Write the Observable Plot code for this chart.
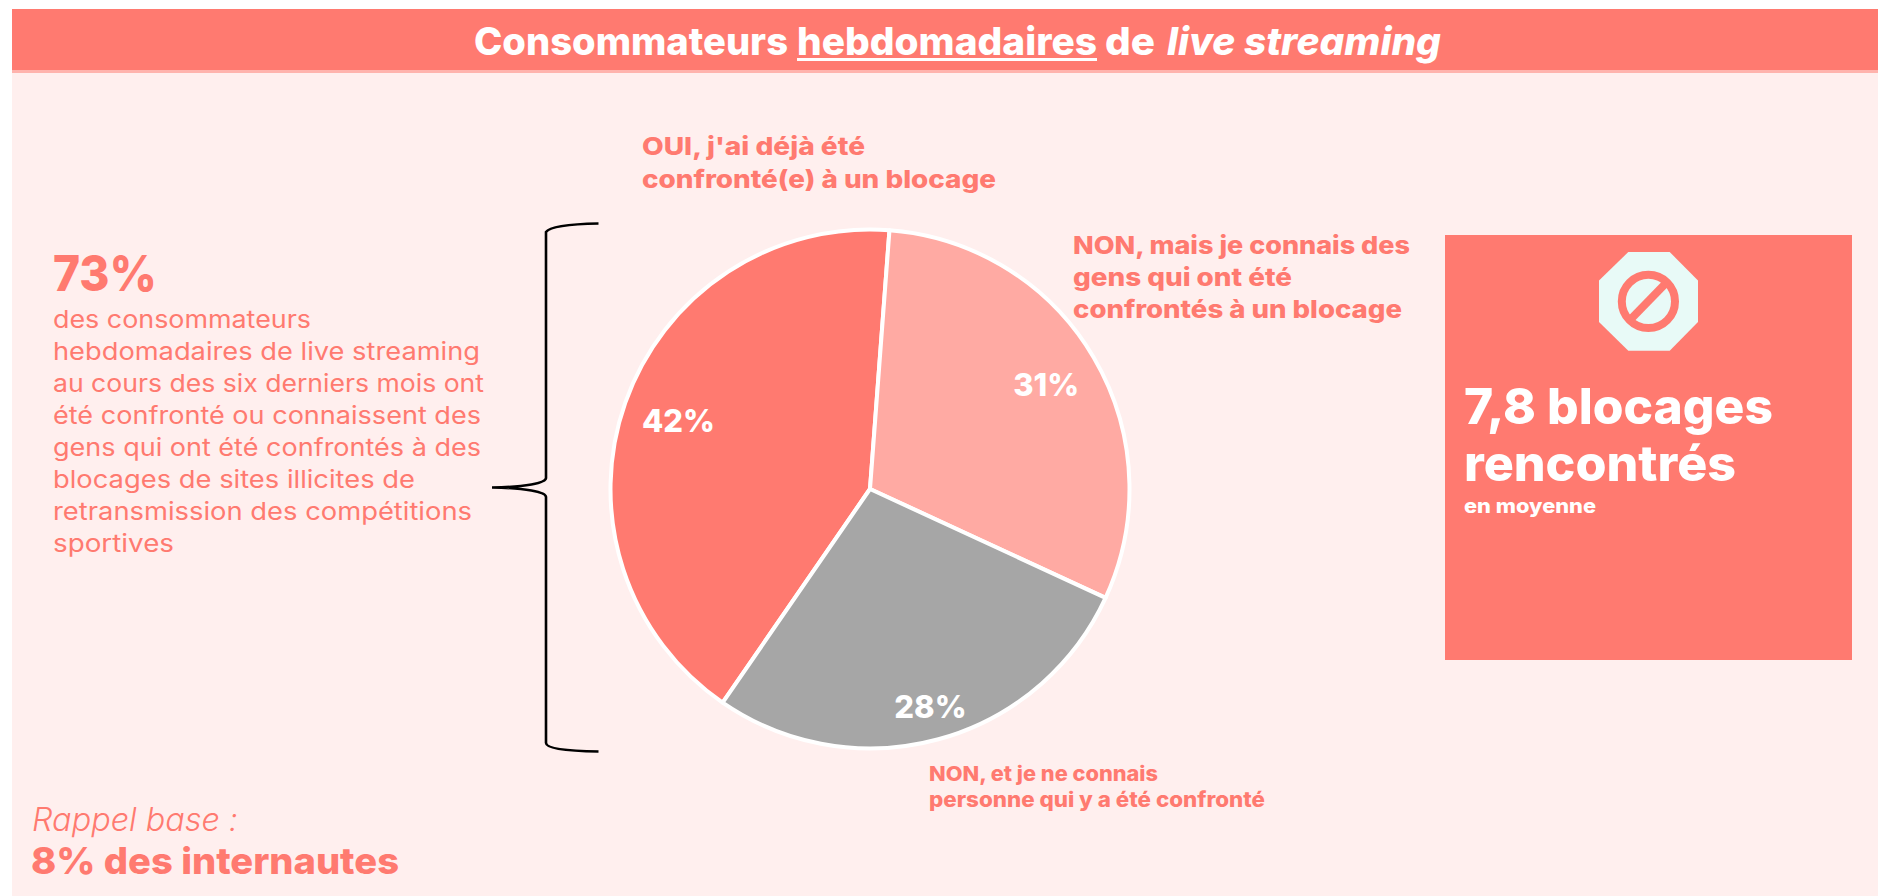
<!DOCTYPE html>
<html lang="fr"><head><meta charset="utf-8">
<script src="https://cdn.jsdelivr.net/npm/d3@7"></script>
<script src="https://cdn.jsdelivr.net/npm/@observablehq/plot@0.6"></script>
<style>
html,body{margin:0;padding:0;background:#fff;width:1878px;height:896px;overflow:hidden}
body{position:relative;font-family:Inter,"Liberation Sans",sans-serif}
#panel{position:absolute;left:12px;top:9px;width:1866px;height:887px;background:#FFEFEE}
#head{position:absolute;left:12px;top:9px;width:1866px;height:61px;background:#FF7A70;border-bottom:3px solid #FFB3AD}
#box{position:absolute;left:1445px;top:235px;width:407px;height:425px;background:#FF7A70}
.t{position:absolute;white-space:nowrap;line-height:40px;color:#FF7A70;transform-origin:0 50%}
#pie{position:absolute;left:590px;top:208.5px}
svg.deco{position:absolute;left:0;top:0;pointer-events:none}
</style></head><body>
<div id="panel"></div><div id="head"></div><div id="box"></div>
<svg class="deco" width="1878" height="896">
<path d="M598.5 223.5C570 224 550 226 546 232V478C546 483 525 487 492 487.5C525 488 546 492 546 497V743C546 749 570 751 598.5 751.5" fill="none" stroke="#000" stroke-width="2.6"/>
<polygon points="1628.3,252 1669.7,252 1698,280.5 1698,322 1669.7,350.7 1628.3,350.7 1599,322 1599,280.5" fill="#E8FAF7"/>
<circle cx="1648.4" cy="301.4" r="26.6" fill="none" stroke="#FF7A70" stroke-width="8"/>
<line x1="1630" y1="320" x2="1667" y2="282" stroke="#FF7A70" stroke-width="8"/>
</svg>
<div id="pie"></div>
<script>
// ---- data ----
const categories = ["OUI, j'ai déjà été confronté(e) à un blocage", "NON, mais je connais des gens qui ont été confrontés à un blocage", "NON, et je ne connais personne qui y a été confronté"];
const shares = [42, 31, 28];
const shareLabels = ["42%", "31%", "28%"];
const sliceColors = ["#FF7A70", "#FFAAA3", "#A6A6A6"];

// ---- layout of the pie ----
const startDeg = 214.6;
const labelRadii = [0.785, 0.785, 0.875];
const pieGen = d3.pie().sort(null).startAngle(startDeg * Math.PI / 180).endAngle((startDeg + 360) * Math.PI / 180);
const arcs = pieGen(shares);
const slices = categories.map((category, i) => {
  const mid = (arcs[i].startAngle + arcs[i].endAngle) / 2;
  return {category, label: shareLabels[i], start: arcs[i].startAngle, end: arcs[i].endAngle,
    lx: labelRadii[i] * Math.sin(mid), ly: labelRadii[i] * Math.cos(mid)};
});

const chart = Plot.plot({
  width: 560, height: 560, margin: 20.5,
  style: {background: "transparent", overflow: "visible"},
  x: {domain: [-1, 1], axis: null},
  y: {domain: [-1, 1], axis: null},
  color: {domain: categories, range: sliceColors, legend: false},
  marks: [
    Plot.dot(slices, {
      x: "lx", y: "ly", fill: "category", r: 1,
      render(index, scales, values) {
        const R = scales.x(1) - scales.x(0);
        const arc = d3.arc().innerRadius(0).outerRadius(R);
        const g = d3.create("svg:g").attr("transform", `translate(${scales.x(0)},${scales.y(0)})`);
        for (const i of index) {
          g.append("path")
            .attr("d", arc({startAngle: slices[i].start, endAngle: slices[i].end}))
            .attr("fill", values.fill ? values.fill[i] : scales.color(slices[i].category))
            .attr("stroke", "#fff").attr("stroke-width", 4).attr("stroke-linejoin", "round");
        }
        return g.node();
      }
    }),
    Plot.text(slices, {x: "lx", y: "ly", text: "label", fill: "#fff", fontSize: 31, fontWeight: 800, fontFamily: "Inter, sans-serif"})
  ]
});
document.getElementById("pie").append(chart);

// ---- text around the chart ----
const titleParts = ["Consommateurs", "hebdomadaires", "de", "live streaming"];
const bodyLines = ["des consommateurs", "hebdomadaires de live streaming", "au cours des six derniers mois ont", "été confronté ou connaissent des", "gens qui ont été confrontés à des", "blocages de sites illicites de", "retransmission des compétitions", "sportives"];
const ouiLines = ["OUI, j'ai déjà été", "confronté(e) à un blocage"];
const nonMaisLines = ["NON, mais je connais des", "gens qui ont été", "confrontés à un blocage"];
const nonEtLines = ["NON, et je ne connais", "personne qui y a été confronté"];

function put(text, x, base, size, weight, targetWidth, extra = "") {
  const d = document.createElement("div");
  d.className = "t";
  d.textContent = text;
  d.style.cssText = `left:${x}px;top:${base - 20 - 0.364 * size}px;font-size:${size}px;font-weight:${weight};${extra}`;
  document.body.append(d);
  d.style.transform = `scaleX(${targetWidth / d.getBoundingClientRect().width})`;
  return d;
}
const white = "color:#fff;";
put(titleParts[0], 474, 55, 38.5, 800, 314, white);
put(titleParts[1], 797, 55, 38.5, 800, 300, white + "text-decoration:underline;text-decoration-thickness:3px;text-underline-offset:3px;");
put(titleParts[2], 1105, 55, 38.5, 800, 50, white);
put(titleParts[3], 1167, 55, 38.5, 800, 274, white + "font-style:italic;");

put("73%", 53, 290.7, 50, 800, 104);
const bodyWidths = [258, 427, 431, 428, 428, 362, 419, 121];
bodyLines.forEach((s, i) => put(s, 53, 327.5 + i * 32, 24.5, 400, bodyWidths[i]));
const ouiWidths = [223, 354];
ouiLines.forEach((s, i) => put(s, 641.5, 155 + i * 33, 24.3, 800, ouiWidths[i]));
const nonMaisWidths = [337, 219, 329];
nonMaisLines.forEach((s, i) => put(s, 1073, 253.5 + i * 32, 24.3, 800, nonMaisWidths[i]));
const nonEtWidths = [229, 336];
nonEtLines.forEach((s, i) => put(s, 928.5, 781.5 + i * 25.5, 20.5, 800, nonEtWidths[i]));
put("Rappel base :", 32, 831.5, 32, 300, 206, "font-style:italic;");
put("8% des internautes", 31, 874, 37, 800, 368);
put("7,8 blocages", 1464, 424, 50, 800, 309, white);
put("rencontrés", 1464, 481.5, 50, 800, 272, white);
put("en moyenne", 1464, 513, 20, 800, 132, white);
</script>
</body></html>
